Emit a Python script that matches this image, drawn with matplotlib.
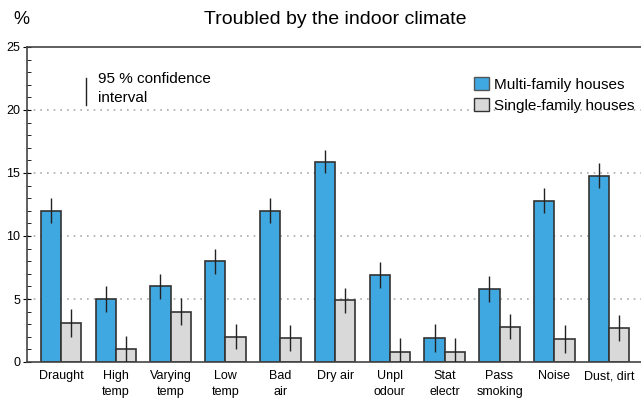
import matplotlib
matplotlib.use("Agg")
import matplotlib.pyplot as plt
from matplotlib.patches import Patch
from matplotlib.ticker import MultipleLocator
import numpy as np

plt.rcParams['font.family'] = ['Liberation Sans', 'DejaVu Sans']

categories = ["Draught", "High\ntemp", "Varying\ntemp", "Low\ntemp", "Bad\nair", "Dry air",
              "Unpl\nodour", "Stat\nelectr", "Pass\nsmoking", "Noise", "Dust, dirt"]
multi = [12.0, 5.0, 6.0, 8.0, 12.0, 15.9, 6.9, 1.9, 5.8, 12.8, 14.8]
single = [3.1, 1.0, 4.0, 2.0, 1.9, 4.9, 0.8, 0.8, 2.8, 1.8, 2.7]
multi_err = [1.0, 1.0, 1.0, 1.0, 1.0, 0.9, 1.0, 1.1, 1.0, 1.0, 1.0]
single_err = [1.1, 1.1, 1.1, 1.0, 1.0, 1.0, 1.1, 1.1, 1.0, 1.1, 1.0]

blue = "#40a8e0"
grey = "#d9d9d9"
edge = "#333333"

fig = plt.figure(figsize=(6.41, 4.01), dpi=100)
ax = fig.add_axes([27 / 641, 1 - 362 / 401, 1 - 27 / 641, (362 - 47) / 401])

x = np.arange(len(categories))
w = 0.37
ax.bar(x - w / 2, multi, w, color=blue, edgecolor=edge, linewidth=1.2, zorder=2)
ax.bar(x + w / 2, single, w, color=grey, edgecolor=edge, linewidth=1.2, zorder=2)
ax.errorbar(x - w / 2, multi, yerr=multi_err, fmt="none", ecolor="#222222", elinewidth=1, capsize=0, zorder=3)
ax.errorbar(x + w / 2, single, yerr=single_err, fmt="none", ecolor="#222222", elinewidth=1, capsize=0, zorder=3)

ax.set_xlim(-0.62, 10.58)
ax.set_ylim(0, 25)
ax.yaxis.set_major_locator(MultipleLocator(5))
ax.yaxis.set_minor_locator(MultipleLocator(1))
ax.tick_params(axis="y", which="major", direction="inout", length=6, labelsize=9, pad=2)
ax.tick_params(axis="y", which="minor", direction="in", length=3)
ax.set_xticks(x)
ax.set_xticklabels(categories, fontsize=9, linespacing=1.45)
ax.tick_params(axis="x", length=0, pad=6)
for s in ["left", "bottom", "top"]:
    ax.spines[s].set_color("#444444")
    ax.spines[s].set_linewidth(1.2)
ax.spines["right"].set_visible(False)

for yv in [5, 10, 15, 20]:
    ax.axhline(yv, color="#aaaaaa", linestyle=(0, (1, 3)), linewidth=1.2, zorder=1)

fig.text(335 / 641, 1 - 20 / 401, "Troubled by the indoor climate", ha="center", va="center", fontsize=14)
fig.text(13 / 641, 1 - 20 / 401, "%", ha="left", va="center", fontsize=13)

# confidence interval key
ax.plot([0.46, 0.46], [20.4, 22.5], color="#222222", linewidth=1)
ax.text(0.67, 23.05, "95 % confidence\ninterval", fontsize=11, va="top", ha="left", linespacing=1.45)

handles = [Patch(facecolor=blue, edgecolor="#555555", label="Multi-family houses"),
           Patch(facecolor=grey, edgecolor="#333333", label="Single-family houses")]
ax.legend(handles=handles, loc="upper right", bbox_to_anchor=(1.005, 0.935), frameon=False,
          fontsize=11, handlelength=1.0, handleheight=1.0, handletextpad=0.35, labelspacing=0.4,
          borderaxespad=0.2)

fig.savefig("out.png", dpi=100)
